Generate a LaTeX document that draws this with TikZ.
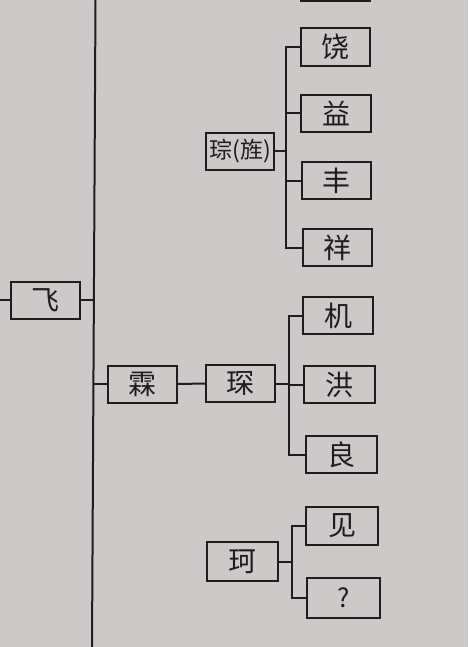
\documentclass[tikz,border=0pt]{standalone}
\usepackage{fontspec}
\newfontfamily\cjk{Noto Sans CJK SC}
\definecolor{paper}{RGB}{204,202,201}
\definecolor{ink}{RGB}{30,28,28}
\begin{document}
\begin{tikzpicture}[x=1pt,y=-1pt,
  namebox/.style={draw=ink,line width=2pt,minimum width=69pt,minimum height=37pt,inner sep=0pt,font=\cjk\fontsize{28}{28}\selectfont,text=ink},
  link/.style={draw=ink,line width=2pt}]
\fill[paper] (0,0) rectangle (468,647);
\useasboundingbox (0,0) rectangle (468,647);
\begin{scope}
\clip (0,0) rectangle (468,647);
% partial box at top
\node[namebox] (topbox) at (335.5,-17.5) {};
% trunk
\coordinate (trunkTop) at (95.5,0);
\coordinate (trunkBot) at (92,647);
\draw[link] (trunkTop) -- (trunkBot);
\end{scope}
% nodes
\node[namebox] (fei) at (45,300) {飞};
\node[namebox] (lin) at (142.5,384) {霖};
\node[namebox] (chen) at (240.5,383.5) {琛};
\node[namebox,minimum width=68pt,font=\cjk\fontsize{23}{23}\selectfont] (cong) at (240,151.5) {琮(旌)};
\node[namebox,minimum width=71pt,minimum height=39pt] (ke) at (242.5,561.5) {珂};
\node[namebox,minimum height=38pt] (rao) at (335.5,47) {饶};
\node[namebox,minimum width=70pt] (yi) at (336,113.5) {益};
\node[namebox] (feng) at (336.5,180.5) {丰};
\node[namebox] (xiang) at (337.5,247.5) {祥};
\node[namebox,minimum width=70pt] (ji) at (338,315.5) {机};
\node[namebox,minimum width=71pt] (hong) at (339.5,384.5) {洪};
\node[namebox,minimum width=71pt] (liang) at (341.5,454.5) {良};
\node[namebox,minimum width=72pt,minimum height=38pt] (jian) at (342,526) {见};
\node[namebox,minimum width=73pt,minimum height=40pt,font=\cjk\fontsize{26}{26}\selectfont] (unk) at (343.5,598) {?};
% junction coordinates
\coordinate (leftEnd) at (0,300);
\coordinate (tFei) at (94,300);
\coordinate (tLin) at (93.5,384);
\coordinate (jCong) at (286,0);
\coordinate (jChen) at (288.5,0);
\coordinate (jKe) at (292,0);
% connectors
\draw[link] (leftEnd) -- (fei.west);
\draw[link] (fei.east) -- (tFei);
\draw[link] (tLin) -- (lin.west);
\draw[link] (lin.east) -- (chen.west);
\foreach \c in {rao,yi,feng,xiang}
  \draw[link] (cong.east) -- (jCong |- cong.east) |- (\c.west);
\foreach \c in {ji,hong,liang}
  \draw[link] (chen.east) -- (jChen |- chen.east) |- (\c.west);
\foreach \c in {jian,unk}
  \draw[link] (ke.east) -- (jKe |- ke.east) |- (\c.west);
\end{tikzpicture}
\end{document}
